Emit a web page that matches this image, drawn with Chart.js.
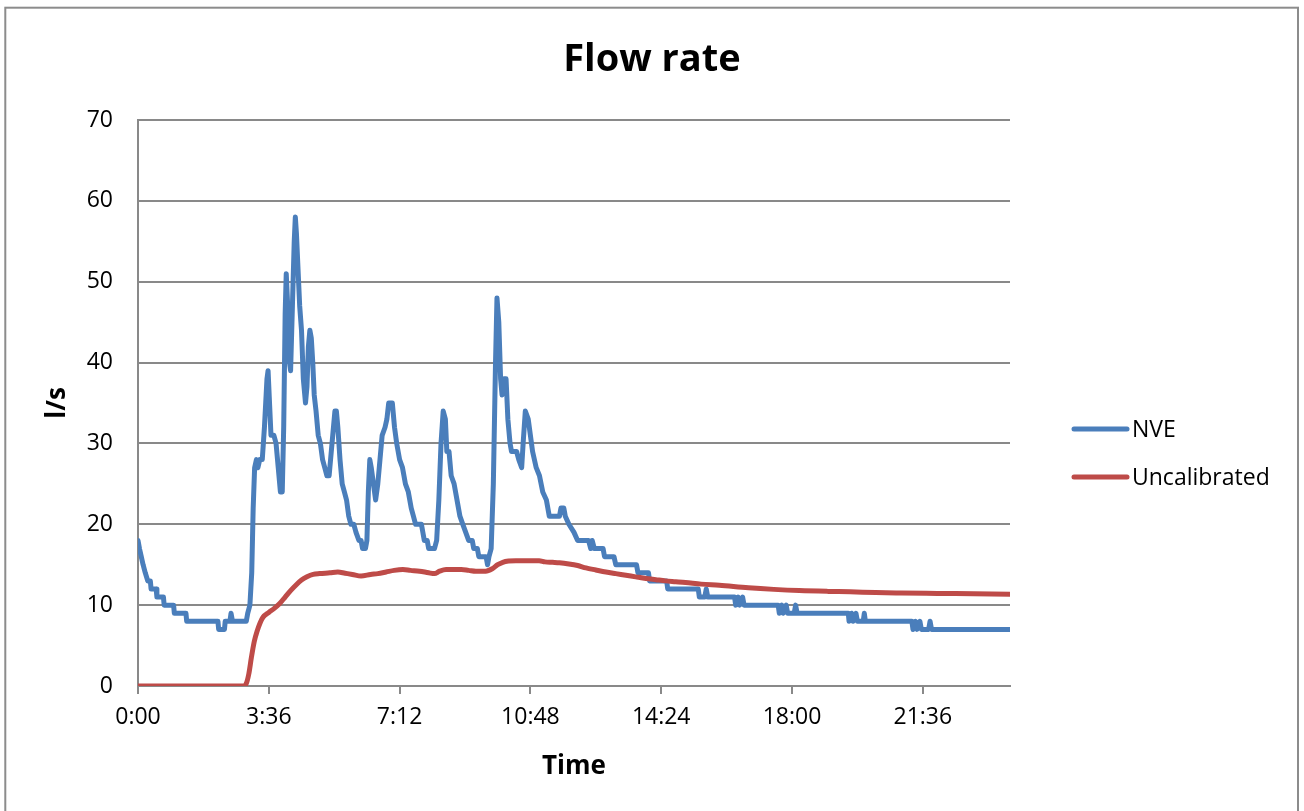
<!DOCTYPE html>
<html>
<head>
<meta charset="utf-8">
<title>Flow rate</title>
<script src="https://cdn.jsdelivr.net/npm/chart.js@4.4.1/dist/chart.umd.min.js"></script>
<style>
  html, body { margin: 0; padding: 0; background: #ffffff; }
  #wrap { width: 1304px; height: 811px; }
</style>
</head>
<body>
<div id="wrap"><canvas id="flow" width="1304" height="811"></canvas></div>
<script>
// Time axis (hours since midnight) and its labels
const xTickHours = [0, 3.6, 7.2, 10.8, 14.4, 18, 21.6];
const xTickLabels = ['0:00', '3:36', '7:12', '10:48', '14:24', '18:00', '21:36'];
const yTicks = [0, 10, 20, 30, 40, 50, 60, 70];

// NVE measured flow (l/s)
const nveHours = [
  0, 0.04, 0.09, 0.14, 0.2, 0.27, 0.34, 0.36, 0.5, 0.52, 0.7, 0.72, 0.98, 1.0, 1.32, 1.34,
  2.2, 2.22, 2.38, 2.4, 2.53, 2.56, 2.6, 2.98, 3.02, 3.08, 3.13, 3.17, 3.21, 3.26, 3.3, 3.35,
  3.42, 3.48, 3.55, 3.58, 3.62, 3.66, 3.74, 3.8, 3.86, 3.92, 3.97, 4.01, 4.05, 4.08, 4.12, 4.17,
  4.2, 4.25, 4.3, 4.33, 4.36, 4.4, 4.45, 4.5, 4.55, 4.61, 4.65, 4.69, 4.73, 4.77, 4.81, 4.85,
  4.9, 4.96, 5.02, 5.08, 5.14, 5.2, 5.26, 5.3, 5.36, 5.42, 5.46, 5.5, 5.56, 5.62, 5.68, 5.74,
  5.8, 5.86, 5.94, 6.0, 6.08, 6.14, 6.18, 6.26, 6.3, 6.34, 6.38, 6.42, 6.48, 6.54, 6.6, 6.66,
  6.72, 6.8, 6.85, 6.9, 7.0, 7.06, 7.12, 7.2, 7.28, 7.36, 7.44, 7.52, 7.58, 7.64, 7.8, 7.84,
  7.88, 7.96, 8.0, 8.16, 8.22, 8.28, 8.34, 8.4, 8.46, 8.5, 8.56, 8.62, 8.7, 8.78, 8.86, 8.94,
  9.02, 9.1, 9.2, 9.24, 9.34, 9.38, 9.58, 9.62, 9.66, 9.72, 9.78, 9.84, 9.88, 9.93, 9.98, 10.02,
  10.07, 10.13, 10.18, 10.24, 10.28, 10.42, 10.48, 10.56, 10.6, 10.66, 10.74, 10.8, 10.86, 10.96, 11.05, 11.14,
  11.24, 11.32, 11.6, 11.64, 11.72, 11.76, 11.86, 12.0, 12.1, 12.4, 12.46, 12.5, 12.56, 12.8, 12.84, 13.1,
  13.15, 13.72, 13.76, 14.05, 14.08, 14.55, 14.58, 15.42, 15.45, 15.6, 15.64, 15.68, 16.42, 16.45, 16.52, 16.56,
  16.64, 16.68, 17.62, 17.65, 17.72, 17.76, 17.84, 17.88, 18.06, 18.1, 18.14, 19.55, 19.57, 19.64, 19.68, 19.76,
  19.8, 19.96, 19.99, 20.02, 21.3, 21.33, 21.4, 21.44, 21.52, 21.56, 21.76, 21.8, 21.84, 24
];
const nveFlow = [
  18, 17, 16, 15, 14, 13, 13, 12, 12, 11, 11, 10, 10, 9, 9, 8,
  8, 7, 7, 8, 8, 9, 8, 8, 9, 10, 14, 22, 27, 28, 27, 28,
  28, 32, 38, 39, 35, 31, 31, 30, 27, 24, 24, 32, 46, 51, 47, 40,
  39, 47, 55, 58, 56, 52, 47, 44, 38, 35, 37, 42, 44, 43, 40, 36,
  34, 31, 30, 28, 27, 26, 26, 28, 31, 34, 34, 32, 28, 25, 24, 23,
  21, 20, 20, 19, 18, 18, 17, 17, 18, 24, 28, 27, 25, 23, 25, 28,
  31, 32, 33, 35, 35, 32, 30, 28, 27, 25, 24, 22, 21, 20, 20, 19,
  18, 18, 17, 17, 18, 23, 30, 34, 33, 29, 29, 26, 25, 23, 21, 20,
  19, 18, 18, 17, 17, 16, 16, 15, 16, 17, 25, 40, 48, 45, 38, 36,
  38, 38, 33, 30, 29, 29, 28, 27, 30, 34, 33, 31, 29, 27, 26, 24,
  23, 21, 21, 22, 22, 21, 20, 19, 18, 18, 17, 18, 17, 17, 16, 16,
  15, 15, 14, 14, 13, 13, 12, 12, 11, 11, 12, 11, 11, 10, 11, 10,
  11, 10, 10, 9, 10, 9, 10, 9, 9, 10, 9, 9, 8, 9, 8, 9,
  8, 8, 9, 8, 8, 7, 8, 7, 8, 7, 7, 8, 7, 7
];

// Uncalibrated model flow (l/s)
const uncalHours = [
  0, 2.9, 2.98, 3.05, 3.12, 3.2, 3.28, 3.36, 3.44, 3.6, 3.75, 3.9, 4.05, 4.2, 4.35, 4.5,
  4.65, 4.82, 5.0, 5.28, 5.5, 5.7, 5.9, 6.14, 6.4, 6.6, 6.83, 7.05, 7.29, 7.5, 7.75, 8.0,
  8.16, 8.3, 8.48, 8.7, 8.9, 9.1, 9.3, 9.57, 9.75, 9.9, 10.04, 10.2, 10.4, 10.8, 11.04, 11.2,
  11.41, 11.6, 11.86, 12.1, 12.33, 12.6, 12.88, 13.15, 13.43, 13.7, 13.98, 14.25, 14.52, 14.8, 15.07, 15.5,
  16.0, 16.8, 17.5, 18.2, 19.0, 19.6, 20.3, 21.0, 22.0, 23.0, 24
];
const uncalFlow = [
  0, 0, 0.3, 1.5, 3.5, 5.5, 6.8, 7.8, 8.5, 9.1, 9.6, 10.2, 11.0, 11.8, 12.5, 13.1,
  13.5, 13.8, 13.9, 14.0, 14.1, 13.95, 13.8, 13.6, 13.8, 13.9, 14.1, 14.3, 14.4, 14.3, 14.2, 14.0,
  13.9, 14.2, 14.4, 14.4, 14.4, 14.3, 14.2, 14.2, 14.5, 15.0, 15.3, 15.45, 15.5, 15.5, 15.5, 15.35,
  15.3, 15.25, 15.1, 14.9, 14.6, 14.35, 14.1, 13.9, 13.7, 13.5, 13.3, 13.15, 13.0, 12.9, 12.8, 12.6,
  12.45, 12.15, 11.95, 11.8, 11.7, 11.65, 11.55, 11.5, 11.45, 11.4, 11.35
];

const seriesNames = ['NVE', 'Uncalibrated'];
const seriesColors = ['#4a7ebb', '#be4b48'];
const gridColor = '#898989';
const fontFamily = "'Open Sans', 'Liberation Sans', sans-serif";

const toPoints = (xs, ys) => xs.map((x, i) => ({ x: x, y: ys[i] }));

// White page, frame, title and legend
const decor = {
  id: 'decor',
  beforeDraw(chart) {
    const ctx = chart.ctx;
    ctx.save();
    ctx.fillStyle = '#ffffff';
    ctx.fillRect(0, 0, chart.width, chart.height);
    ctx.strokeStyle = '#8c8c8c';
    ctx.lineWidth = 2;
    ctx.strokeRect(5.3, 7.7, 1292.7, 900);
    ctx.restore();
  },
  afterDraw(chart) {
    const ctx = chart.ctx;
    ctx.save();
    ctx.fillStyle = '#000000';
    ctx.font = "bold 38px " + fontFamily;
    ctx.textAlign = 'center';
    ctx.textBaseline = 'alphabetic';
    ctx.fillText('Flow rate', 652, 71);

    const rows = [429, 477];
    ctx.font = "23px " + fontFamily;
    ctx.textAlign = 'left';
    ctx.textBaseline = 'middle';
    seriesNames.forEach((name, i) => {
      ctx.strokeStyle = seriesColors[i];
      ctx.lineWidth = 5;
      ctx.lineCap = 'round';
      ctx.beginPath();
      ctx.moveTo(1074, rows[i]);
      ctx.lineTo(1127, rows[i]);
      ctx.stroke();
      ctx.fillStyle = '#000000';
      ctx.fillText(name, 1132, rows[i] + 1);
    });
    ctx.restore();
  }
};

function build() {
  Chart.defaults.font.family = fontFamily;
  Chart.defaults.color = '#000000';
  new Chart(document.getElementById('flow'), {
    type: 'line',
    data: {
      datasets: [
        {
          label: seriesNames[0],
          data: toPoints(nveHours, nveFlow),
          borderColor: seriesColors[0],
          backgroundColor: seriesColors[0],
          borderWidth: 5,
          borderJoinStyle: 'round',
          borderCapStyle: 'round',
          pointRadius: 0,
          tension: 0,
          order: 2
        },
        {
          label: seriesNames[1],
          data: toPoints(uncalHours, uncalFlow),
          borderColor: seriesColors[1],
          backgroundColor: seriesColors[1],
          borderWidth: 5,
          borderJoinStyle: 'round',
          borderCapStyle: 'round',
          pointRadius: 0,
          cubicInterpolationMode: 'monotone',
          order: 1
        }
      ]
    },
    options: {
      responsive: false,
      animation: false,
      devicePixelRatio: 1,
      layout: { padding: { left: 0, top: 120, right: 294, bottom: 0 } },
      plugins: {
        legend: { display: false },
        title: { display: false },
        tooltip: { enabled: false }
      },
      scales: {
        x: {
          type: 'linear',
          min: 0,
          max: 24,
          afterBuildTicks: s => { s.ticks = xTickHours.map(v => ({ value: v })); },
          afterFit: s => { s.height = 125; },
          ticks: {
            autoSkip: false,
            maxRotation: 0,
            padding: 10,
            font: { size: 23 },
            color: '#000000',
            callback: (v, i) => xTickLabels[i]
          },
          grid: {
            drawOnChartArea: false,
            drawTicks: true,
            tickLength: 8,
            color: gridColor,
            lineWidth: 2
          },
          border: { display: true, color: gridColor, width: 2 },
          title: {
            display: true,
            text: 'Time',
            font: { size: 26, weight: 'bold' },
            color: '#000000',
            padding: { top: 0, bottom: 29 }
          }
        },
        y: {
          min: 0,
          max: 70,
          afterBuildTicks: s => { s.ticks = yTicks.map(v => ({ value: v })); },
          afterFit: s => { s.width = 138; },
          ticks: {
            padding: 25,
            font: { size: 23 },
            color: '#000000'
          },
          grid: {
            drawTicks: false,
            color: gridColor,
            lineWidth: 2
          },
          border: { display: true, color: gridColor, width: 2 },
          title: {
            display: true,
            text: 'l/s',
            font: { size: 26, weight: 'bold' },
            color: '#000000',
            padding: { top: 42, bottom: 0 }
          }
        }
      }
    },
    plugins: [decor]
  });
}

if (document.fonts && document.fonts.load) {
  Promise.all([
    document.fonts.load("23px 'Open Sans'"),
    document.fonts.load("bold 38px 'Open Sans'")
  ]).then(build, build);
} else {
  build();
}
</script>
</body>
</html>
